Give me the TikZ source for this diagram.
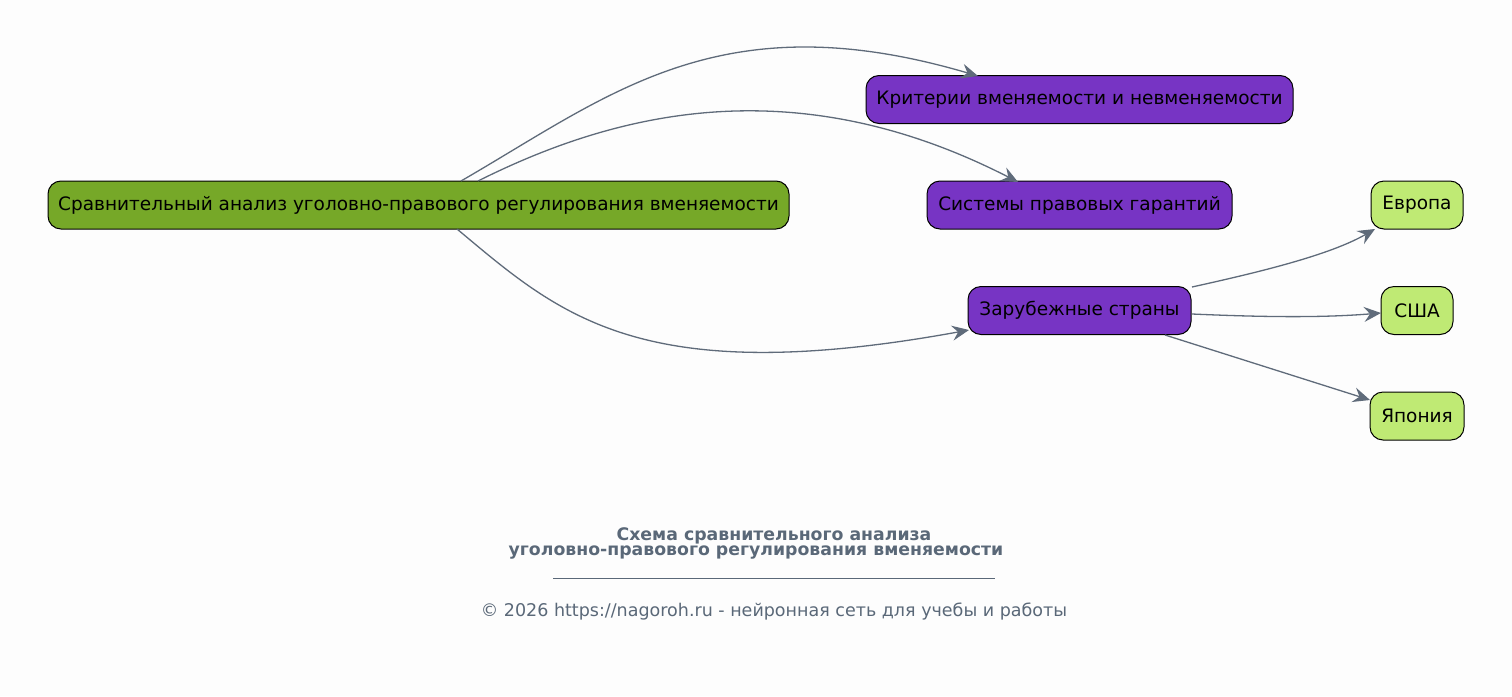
\documentclass[tikz,border=0pt]{standalone}
\usepackage{fontspec}
\setmainfont{DejaVu Sans}
\usetikzlibrary{arrows.meta}
\definecolor{bg}{HTML}{FDFDFD}
\definecolor{rootc}{HTML}{76A828}
\definecolor{purp}{HTML}{7734C4}
\definecolor{leafc}{HTML}{BFEA74}
\definecolor{edgec}{HTML}{5F6B7A}
\definecolor{titlec}{HTML}{5A6878}
\tikzset{
  box/.style={draw=black, line width=1pt, rounded corners=13pt, minimum height=48pt, inner xsep=0pt, text=black, font=\fontsize{18.5}{22}\selectfont},
  rootbox/.style={box, fill=rootc},
  midbox/.style={box, fill=purp},
  leafbox/.style={box, fill=leafc},
  conn/.style={draw=edgec, line width=1.3pt, -{Stealth[length=17pt,width=15pt,inset=6pt]}},
}
\begin{document}
\begin{tikzpicture}[x=1pt,y=-1pt]
\fill[bg] (0,0) rectangle (1512,696);
\useasboundingbox (0,0) rectangle (1512,696);
\node[rootbox, minimum width=741pt] (root) at (418.5,205) {Сравнительный анализ уголовно-правового регулирования вменяемости};
\node[midbox, minimum width=427pt] (krit) at (1079.5,99.5) {Критерии вменяемости и невменяемости};
\node[midbox, minimum width=305pt] (sys) at (1079.5,205) {Системы правовых гарантий};
\node[midbox, minimum width=223pt] (zar) at (1079.5,310.5) {Зарубежные страны};
\node[leafbox, minimum width=92pt] (eur) at (1417,205) {Европа};
\node[leafbox, minimum width=72pt] (usa) at (1417,310.5) {США};
\node[leafbox, minimum width=94pt] (jap) at (1417,416) {Япония};
\coordinate (r1) at (461,181);
\coordinate (r2) at (478,181);
\coordinate (r3) at (457,229);
\coordinate (k1) at (978,76);
\coordinate (s1) at (1018,182);
\coordinate (z1) at (969,330);
\coordinate (z2) at (1192,287);
\coordinate (z3) at (1192,314);
\coordinate (z4) at (1165,335);
\coordinate (e1) at (1375,229);
\coordinate (u1) at (1381,313);
\coordinate (j1) at (1370,400);
\draw[conn] (r1) .. controls (610,95) and (720,0) .. (k1);
\draw[conn] (r2) .. controls (610,115) and (790,65) .. (s1);
\draw[conn] (r3) .. controls (560,315) and (640,390) .. (z1);
\draw[conn] (z2) .. controls (1260,272) and (1330,255) .. (e1);
\draw[conn] (z3) .. controls (1260,317) and (1320,318) .. (u1);
\draw[conn] (z4) -- (j1);
\node[text=titlec, font=\bfseries\fontsize{17.3}{20}\selectfont] (title) at (774,536) {Схема сравнительного анализа};
\node[text=titlec, font=\bfseries\fontsize{17.3}{20}\selectfont] (title2) at (756,553) {уголовно-правового регулирования вменяемости};
\coordinate (la) at (553,578);
\coordinate (lb) at (995,578);
\draw[titlec, line width=0.8pt] (la) -- (lb);
\node[text=titlec, font=\fontsize{17.5}{20}\selectfont] (foot) at (774,612) {© 2026 https://nagoroh.ru - нейронная сеть для учебы и работы};
\end{tikzpicture}
\end{document}
